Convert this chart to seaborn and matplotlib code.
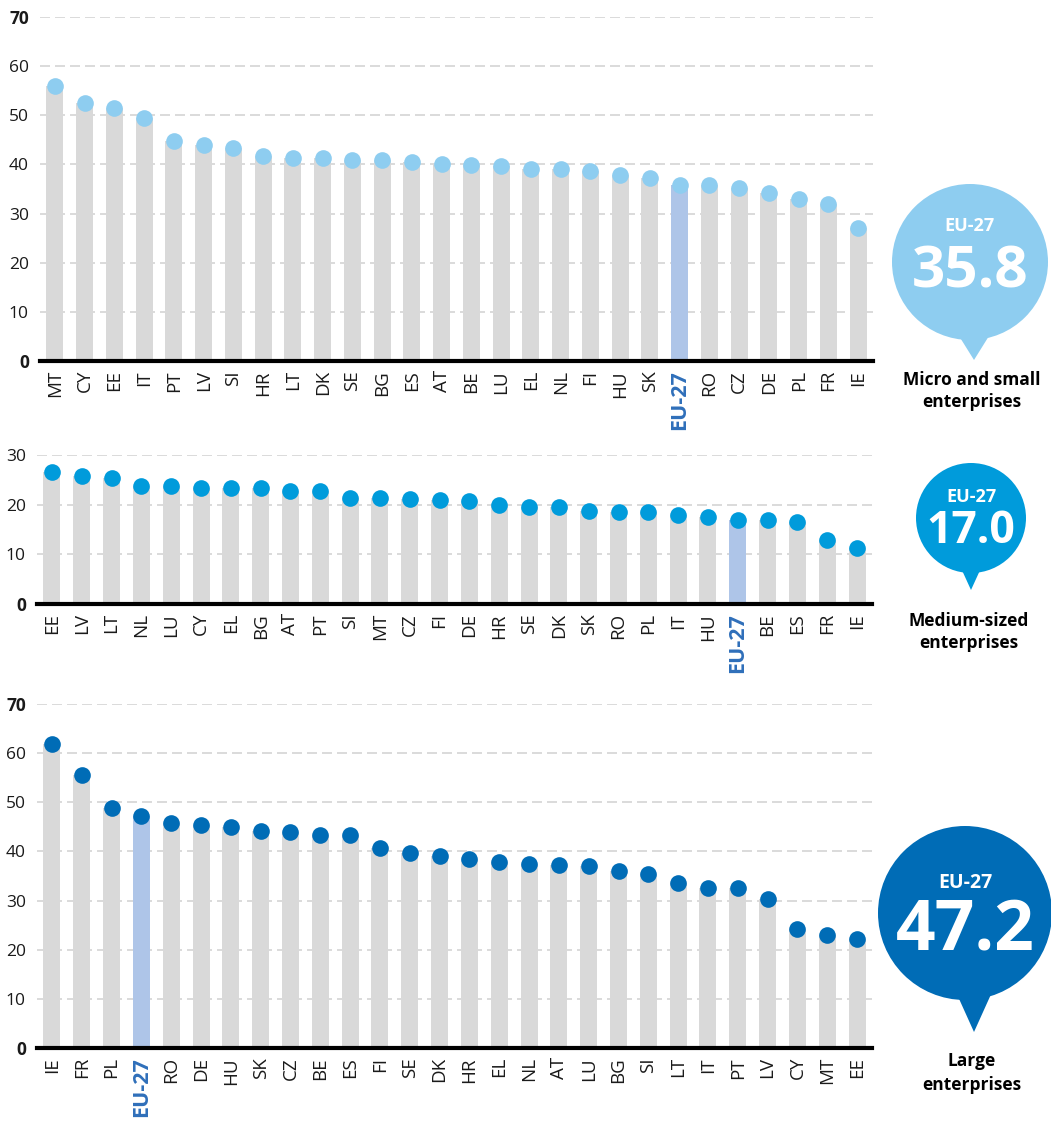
import numpy as np
import pandas as pd
import matplotlib
matplotlib.use("Agg")
import matplotlib.pyplot as plt
import seaborn as sns
from matplotlib.patches import Circle, Polygon

# ---------------- data ----------------
micro_countries = ["MT", "CY", "EE", "IT", "PT", "LV", "SI", "HR", "LT", "DK", "SE", "BG", "ES", "AT",
                   "BE", "LU", "EL", "NL", "FI", "HU", "SK", "EU-27", "RO", "CZ", "DE", "PL", "FR", "IE"]
micro_values = [55.9, 52.4, 51.4, 49.4, 44.8, 44.0, 43.3, 41.7, 41.4, 41.3, 40.9, 40.8, 40.5, 40.1,
                39.8, 39.6, 39.1, 39.0, 38.6, 37.8, 37.2, 35.8, 35.8, 35.2, 34.1, 32.9, 31.9, 27.1]

medium_countries = ["EE", "LV", "LT", "NL", "LU", "CY", "EL", "BG", "AT", "PT", "SI", "MT", "CZ", "FI",
                    "DE", "HR", "SE", "DK", "SK", "RO", "PL", "IT", "HU", "EU-27", "BE", "ES", "FR", "IE"]
medium_values = [26.5, 25.8, 25.3, 23.7, 23.7, 23.4, 23.3, 23.3, 22.8, 22.7, 21.4, 21.4, 21.1, 21.0,
                 20.7, 19.9, 19.6, 19.6, 18.7, 18.5, 18.5, 18.0, 17.5, 17.0, 17.0, 16.6, 12.8, 11.3]

large_countries = ["IE", "FR", "PL", "EU-27", "RO", "DE", "HU", "SK", "CZ", "BE", "ES", "FI", "SE", "DK",
                   "HR", "EL", "NL", "AT", "LU", "BG", "SI", "LT", "IT", "PT", "LV", "CY", "MT", "EE"]
large_values = [61.9, 55.5, 48.8, 47.2, 45.8, 45.4, 44.9, 44.2, 43.9, 43.4, 43.3, 40.7, 39.6, 39.1,
                38.5, 37.8, 37.5, 37.2, 37.1, 36.1, 35.5, 33.6, 32.6, 32.6, 30.3, 24.3, 23.0, 22.2]

eu_labels = ["EU-27", "EU-27", "EU-27"]
eu_values = ["35.8", "17.0", "47.2"]
panel_titles = [["Micro and small", "enterprises"],
                ["Medium-sized", "enterprises"],
                ["Large", "enterprises"]]

# ---------------- style ----------------
sns.set_style("white")
plt.rcParams["font.family"] = ["Open Sans", "DejaVu Sans"]

GREY_BAR = "#d9d9d9"
EU_BAR = "#aec5e8"
EU_TEXT = "#2f6fba"
DOT_COLORS = ["#8ecdf0", "#009bdb", "#006cb6"]
TXT = "#1a1a1a"

W, H = 1051, 1126
fig = plt.figure(figsize=(W / 100, H / 100), dpi=100)


def px_axes(left, right, top, bottom):
    return fig.add_axes([left / W, 1 - bottom / H, (right - left) / W, (bottom - top) / H])


def panel(ax, cats, vals, dot_color, ymax, bold_top):
    df = pd.DataFrame({"country": cats, "value": vals})
    pal = {c: (EU_BAR if c == "EU-27" else GREY_BAR) for c in cats}
    sns.barplot(data=df, x="country", y="value", hue="country", palette=pal, order=cats,
                hue_order=cats, legend=False, width=0.57, saturation=1, linewidth=0, ax=ax)
    sns.stripplot(data=df, x="country", y="value", order=cats, jitter=False, size=12,
                  color=dot_color, linewidth=0, ax=ax, zorder=4)
    ax.set_xlim(-0.5, len(cats) - 0.5)
    ax.set_ylim(0, ymax)
    ax.set_yticks(np.arange(0, ymax + 1, 10))
    ax.set_xlabel("")
    ax.set_ylabel("")
    ax.grid(axis="y", linestyle=(0, (6, 3)), color="#d4d4d4", linewidth=1.2)
    ax.grid(axis="x", visible=False)
    ax.set_axisbelow(True)
    for s in ["top", "right", "left"]:
        ax.spines[s].set_visible(False)
    ax.spines["bottom"].set_color("black")
    ax.spines["bottom"].set_linewidth(3)
    ax.spines["bottom"].set_zorder(5)
    ax.tick_params(axis="both", length=0)
    ax.tick_params(axis="y", pad=8, labelsize=12.5, labelcolor=TXT)
    ax.tick_params(axis="x", pad=6.5, labelsize=13.5, labelcolor=TXT)
    ax.set_xticks(range(len(cats)))
    ax.set_xticklabels(cats, rotation=90, va="top", ha="center")
    for lab in ax.get_xticklabels():
        if lab.get_text() == "EU-27":
            lab.set_color(EU_TEXT)
            lab.set_fontweight("bold")
            lab.set_fontsize(15.5)
    for lab in ax.get_yticklabels():
        t = lab.get_text()
        if t == "0" or (bold_top and t == str(ymax)):
            lab.set_fontweight("bold")


ax1 = px_axes(40, 873, 17, 361)
panel(ax1, micro_countries, micro_values, DOT_COLORS[0], 70, True)
ax2 = px_axes(37, 872, 455, 604)
panel(ax2, medium_countries, medium_values, DOT_COLORS[1], 30, False)
ax3 = px_axes(37, 872, 704, 1048)
panel(ax3, large_countries, large_values, DOT_COLORS[2], 70, True)

# ---------------- bubbles (overlay in pixel coordinates) ----------------
ov = fig.add_axes([0, 0, 1, 1], zorder=10)
ov.set_xlim(0, W)
ov.set_ylim(H, 0)
ov.axis("off")
ov.patch.set_alpha(0)


def bubble(cx, cy, r, tipx, tipy, halfw, color, eu_lab, num, eu_size, num_size,
           eu_base, num_base, title, t_bases, t_size):
    ov.add_patch(Circle((cx, cy), r, facecolor=color, edgecolor="none"))
    base_y = cy + np.sqrt(max(r ** 2 - halfw ** 2, 0)) - 4
    ov.add_patch(Polygon([(tipx - halfw, base_y), (tipx + halfw, base_y), (tipx, tipy)],
                         closed=True, facecolor=color, edgecolor="none"))
    ov.text(cx, eu_base, eu_lab, color="white", fontsize=eu_size, fontweight="bold",
            ha="center", va="baseline")
    ov.text(cx, num_base, num, color="white", fontsize=num_size, fontweight="bold",
            ha="center", va="baseline")
    for line, yb in zip(title, t_bases):
        ov.text(tipx - 2, yb, line, color="black", fontsize=t_size, fontweight="bold",
                ha="center", va="baseline")


bubble(970, 262, 78, 974, 360, 16, DOT_COLORS[0], eu_labels[0], eu_values[0], 13, 42,
       231, 287, panel_titles[0], [385, 407], 12.5)
bubble(971, 518, 55, 971, 590, 10, DOT_COLORS[1], eu_labels[1], eu_values[1], 13, 32,
       501.5, 543, panel_titles[1], [626, 648.5], 12.5)
bubble(965, 913, 87, 974, 1032, 17, DOT_COLORS[2], eu_labels[2], eu_values[2], 14, 50,
       888.5, 949, panel_titles[2], [1066.5, 1090], 12.5)

fig.savefig("out.png", dpi=100)
